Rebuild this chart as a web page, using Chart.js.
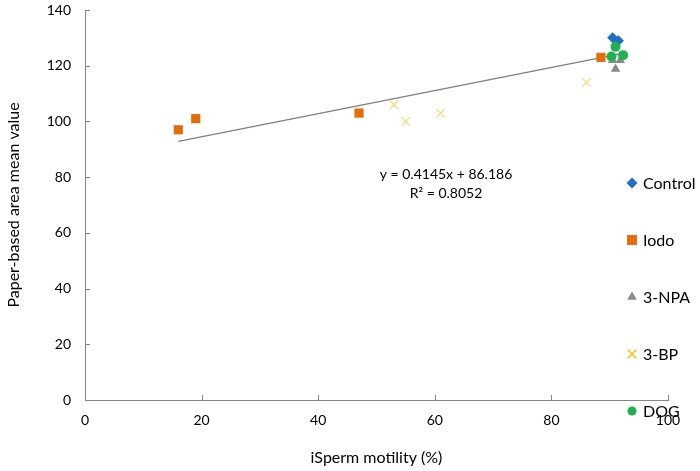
<!DOCTYPE html>
<html>
<head>
<meta charset="utf-8">
<script src="https://cdn.jsdelivr.net/npm/chart.js@4/dist/chart.umd.min.js"></script>
<style>
  html, body { margin: 0; padding: 0; background: #fff; }
  #wrap { width: 700px; height: 471px; }
</style>
</head>
<body>
<div id="wrap"><canvas id="motility"></canvas></div>
<script>
const controlX = [90.5, 91.5];
const controlY = [130, 129];
const iodoX = [16, 19, 47, 88.5];
const iodoY = [97, 101, 103, 123];
const npaX = [90.5, 91.8, 91];
const npaY = [122, 122, 118.8];
const bpX = [53, 55, 61, 86];
const bpY = [106, 100, 103, 114];
const dogX = [91, 90.3, 92.3];
const dogY = [126.8, 123.3, 123.8];
const trendX = [16, 92];
const trendY = [92.8, 124.3];
const xTicks = [0, 20, 40, 60, 80, 100];
const yTicks = [0, 20, 40, 60, 80, 100, 120, 140];

const FONT = "Lato, 'Open Sans', sans-serif";
const toPts = (xs, ys) => xs.map((x, i) => ({ x, y: ys[i] }));

const series = [
  { label: "Control", xs: controlX, ys: controlY, style: "rectRot", color: "#1f6fc4", r: 5.5, legendColor: "#1f6fc4", lr: 5.5 },
  { label: "Iodo", xs: iodoX, ys: iodoY, style: "rect", color: "#e46c0a", r: 6.5, legendColor: "#e46c0a", lr: 7 },
  { label: "3-NPA", xs: npaX, ys: npaY, style: "triangle", color: "#8a8a8a", r: 5.5, legendColor: "#8a8a8a", lr: 5.5 },
  { label: "3-BP", xs: bpX, ys: bpY, style: "crossRot", color: "#f7d77a", r: 6, legendColor: "#ffc000", lr: 6 },
  { label: "DOG", xs: dogX, ys: dogY, style: "circle", color: "#1fb050", r: 5, legendColor: "#1fb050", lr: 4.5 },
];

const datasets = [
  {
    type: "line",
    label: "trend",
    data: toPts(trendX, trendY),
    borderColor: "#7f7f7f",
    borderWidth: 1.3,
    pointRadius: 0,
    fill: false,
    order: 10,
  },
  ...series.map((s, i) => ({
    type: "scatter",
    label: s.label,
    data: toPts(s.xs, s.ys),
    pointStyle: s.style,
    pointRadius: s.r,
    pointHoverRadius: s.r,
    backgroundColor: s.color,
    borderColor: s.color,
    borderWidth: s.style === "crossRot" ? 1.2 : 0,
    order: 5 - i,
  })),
];

// tick marks drawn inside the plot, legend on the right, equation text
const extras = {
  id: "extras",
  afterDraw(chart) {
    const { ctx, chartArea, scales } = chart;
    ctx.save();
    ctx.strokeStyle = "#868686";
    ctx.lineWidth = 1;
    ctx.beginPath();
    xTicks.forEach((v) => {
      const px = Math.round(scales.x.getPixelForValue(v)) + 0.5;
      ctx.moveTo(px, chartArea.bottom);
      ctx.lineTo(px, chartArea.bottom - 5);
    });
    yTicks.forEach((v) => {
      const py = Math.round(scales.y.getPixelForValue(v)) + 0.5;
      ctx.moveTo(chartArea.left, py);
      ctx.lineTo(chartArea.left + 5, py);
    });
    ctx.stroke();

    // regression text
    ctx.fillStyle = "#000";
    ctx.font = "14px " + FONT;
    ctx.textAlign = "center";
    ctx.textBaseline = "middle";
    ctx.fillText("y = 0.4145x + 86.186", 446, 174);
    ctx.fillText("R² = 0.8052", 446, 193);

    // legend
    ctx.textAlign = "left";
    ctx.font = "16px " + FONT;
    series.forEach((s, i) => {
      const y = 183 + i * 57;
      ctx.fillStyle = s.legendColor;
      ctx.strokeStyle = s.legendColor;
      ctx.lineWidth = 1.5;
      Chart.helpers.drawPoint(ctx, {
        pointStyle: s.style,
        radius: s.lr,
        rotation: 0,
        borderWidth: s.style === "crossRot" ? 1.5 : 0,
      }, 632, y);
      ctx.fillStyle = "#000";
      ctx.fillText(s.label, 643, y + 1);
    });
    ctx.restore();
  },
};

const options = {
  responsive: true,
  maintainAspectRatio: false,
  animation: false,
  layout: { autoPadding: false, padding: { top: 10, right: 32, left: 0, bottom: 0 } },
  scales: {
    x: {
      type: "linear",
      min: 0,
      max: 100,
      afterBuildTicks: (scale) => { scale.ticks = xTicks.map((v) => ({ value: v })); },
      afterFit: (scale) => { scale.height = 71; scale.paddingLeft = 0; scale.paddingRight = 0; },
      grid: { display: false, drawTicks: false },
      border: { color: "#868686", width: 1 },
      ticks: { color: "#000", font: { family: FONT, size: 14 }, padding: 12, maxRotation: 0 },
      title: {
        display: true,
        text: "iSperm motility (%)",
        color: "#000",
        font: { family: FONT, size: 16 },
        padding: { top: 12 },
      },
    },
    y: {
      type: "linear",
      min: 0,
      max: 140,
      afterBuildTicks: (scale) => { scale.ticks = yTicks.map((v) => ({ value: v })); },
      afterFit: (scale) => { scale.width = 85; scale.paddingTop = 0; scale.paddingBottom = 0; },
      grid: { display: false, drawTicks: false },
      border: { color: "#868686", width: 1 },
      ticks: { color: "#000", font: { family: FONT, size: 14 }, padding: 14 },
      title: {
        display: true,
        text: "Paper-based area mean value",
        color: "#000",
        font: { family: FONT, size: 16 },
        padding: { bottom: 2 },
      },
    },
  },
  plugins: {
    legend: { display: false },
    tooltip: { enabled: false },
  },
};

new Chart(document.getElementById("motility"), {
  data: { datasets },
  options,
  plugins: [extras],
});
</script>
</body>
</html>
